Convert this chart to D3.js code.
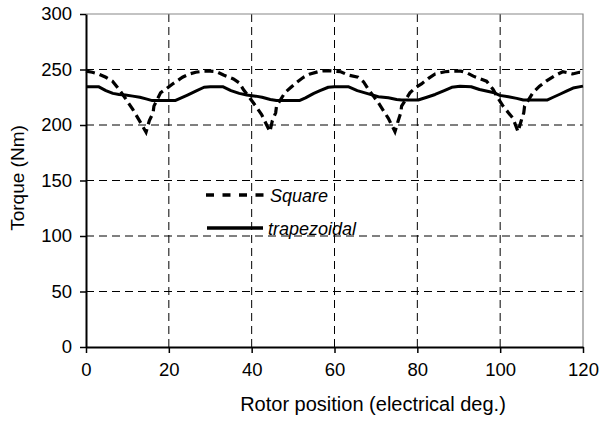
<!DOCTYPE html>
<html>
<head>
<meta charset="utf-8">
<script src="https://cdn.jsdelivr.net/npm/d3@7"></script>
<style>
  body { margin: 0; background: #fff; }
  svg text { font-family: "Liberation Sans", Arial, sans-serif; fill: #000; }
</style>
</head>
<body>
<svg id="chart" width="603" height="421"></svg>
<script>
// tick labels
var xTicks = [0, 20, 40, 60, 80, 100, 120];
var yTicks = [0, 50, 100, 150, 200, 250, 300];

// series: [rotor position (elec. deg), torque (Nm)]
var square = [
  [0, 248.5], [1.5, 247.5], [3, 246], [4.8, 243], [6.4, 239.5], [8, 232], [9.7, 223],
  [11.3, 214], [12.9, 204], [14.5, 193.5], [15.3, 204], [16.2, 211], [16.4, 217], [18, 229],
  [19.5, 233], [20.9, 237], [23.3, 243], [25, 246], [26.5, 247.5], [28.5, 248.5], [30, 248.5],
  [31.5, 248], [33.2, 245], [35.6, 241.5], [37, 238], [38, 232], [39.2, 226], [40.4, 220],
  [42.4, 209.5], [44.4, 194], [45, 204], [45.8, 211], [46, 217], [48, 229], [49.5, 234],
  [50.9, 238.5], [52.5, 243], [54.1, 246], [56.5, 248.5], [58.5, 249], [60, 248.5],
  [61.5, 248], [63.3, 245], [65.7, 243], [67, 239], [68.2, 232], [69.4, 226], [70.6, 220],
  [73, 206], [74.6, 194], [75.4, 204], [76, 211], [76.2, 217], [78.2, 229], [79.5, 233.5],
  [81, 237], [82.7, 242], [84.3, 246], [86.7, 248], [88.5, 248.5], [90.5, 248.5],
  [92, 247], [93.5, 244], [96.7, 239.5], [98.3, 232], [99.5, 224], [100.7, 217],
  [103.1, 206], [104.3, 194], [105.1, 204], [105.7, 211], [105.9, 217], [107.9, 229],
  [109.5, 235], [111.1, 239.5], [113, 244], [115.1, 248], [116.5, 247], [117.5, 246],
  [119.1, 247.5], [120, 247]
];

var trapezoidal = [
  [0, 234.5], [3, 234.5], [4.8, 231], [6.5, 228.5], [8, 227.5], [9.5, 227], [11.3, 226],
  [13, 225], [14.5, 223.5], [16, 222], [21.5, 222], [23, 224.5], [24.5, 227], [26.5, 230.5],
  [28.5, 234], [30, 234.5], [33, 234.5], [35, 231], [37, 228.5], [38.8, 227], [41, 226],
  [42.5, 225], [44.5, 223], [46, 222], [51.5, 222], [53, 224.5], [55, 228.5], [56.5, 231],
  [58.5, 234], [60, 234.5], [63.3, 234.5], [65.5, 231], [68.2, 228], [70.6, 225.5],
  [73, 224.5], [75, 223], [76.2, 222.5], [80.2, 222.5], [82.3, 225], [84.3, 227.5],
  [86.5, 231], [88.3, 234], [90.3, 235], [93, 234.5], [95, 232], [98.3, 229.3],
  [99.9, 226.7], [102, 225.5], [104, 224], [105.6, 222.5], [111.3, 222.5], [112.8, 225],
  [114.4, 227.7], [116, 230.5], [117.6, 233.3], [120, 235]
];

var svg = d3.select("#chart"),
    margin = {top: 14, left: 86, bottom: 74, right: 20},
    width = +svg.attr("width"),
    height = +svg.attr("height");

var x = d3.scaleLinear()
  .domain([0, 120])
  .range([margin.left, width - margin.right]);

var y = d3.scaleLinear()
  .domain([0, 300])
  .range([height - margin.bottom, margin.top]);

svg.append("rect")
  .attr("width", width).attr("height", height).attr("fill", "#fff");

// grid
svg.append("g").selectAll("line")
  .data(yTicks.filter(d => d > 0 && d < 300))
  .join("line")
  .attr("x1", x(0)).attr("x2", x(120))
  .attr("y1", d => y(d)).attr("y2", d => y(d))
  .attr("stroke", "#000").attr("stroke-width", 1)
  .attr("stroke-dasharray", "8,5");

svg.append("g").selectAll("line")
  .data(xTicks.filter(d => d > 0 && d < 120))
  .join("line")
  .attr("x1", d => x(d)).attr("x2", d => x(d))
  .attr("y1", y(0)).attr("y2", y(300))
  .attr("stroke", "#000").attr("stroke-width", 1)
  .attr("stroke-dasharray", "8,5");

// top and right frame
svg.append("path")
  .attr("d", "M" + x(0) + "," + y(300) + "H" + x(120) + "V" + y(0))
  .attr("fill", "none").attr("stroke", "#888").attr("stroke-width", 1.2);

// axes
var xAxis = g => g
  .attr("transform", "translate(0," + y(0) + ")")
  .call(d3.axisBottom(x).tickValues(xTicks).tickSize(6).tickPadding(10).tickSizeOuter(0))
  .call(g => g.select(".domain").attr("stroke-width", 2))
  .call(g => g.selectAll(".tick line").attr("stroke-width", 1.5))
  .call(g => g.selectAll("text").attr("font-size", 18.5).style("font-family", "Liberation Sans, Arial, sans-serif"));

var yAxis = g => g
  .attr("transform", "translate(" + x(0) + ",0)")
  .call(d3.axisLeft(y).tickValues(yTicks).tickSize(6).tickPadding(8).tickSizeOuter(0))
  .call(g => g.select(".domain").attr("stroke-width", 2))
  .call(g => g.selectAll(".tick line").attr("stroke-width", 1.5))
  .call(g => g.selectAll("text").attr("font-size", 18.5).style("font-family", "Liberation Sans, Arial, sans-serif"));

svg.append("g").attr("class", "x-axis").call(xAxis);
svg.append("g").attr("class", "y-axis").call(yAxis);

// series
var line = d3.line().x(d => x(d[0])).y(d => y(d[1]));

svg.append("path")
  .datum(trapezoidal)
  .attr("d", line)
  .attr("fill", "none").attr("stroke", "#000").attr("stroke-width", 3)
  .attr("stroke-linejoin", "round");

svg.append("path")
  .datum(square)
  .attr("d", line)
  .attr("fill", "none").attr("stroke", "#000").attr("stroke-width", 3.2)
  .attr("stroke-dasharray", "9,5");

// legend
var legend = svg.append("g");
legend.append("line")
  .attr("x1", 206).attr("x2", 267).attr("y1", 195).attr("y2", 195)
  .attr("stroke", "#000").attr("stroke-width", 3.5).attr("stroke-dasharray", "8,8.5");
legend.append("text")
  .attr("x", 270).attr("y", 202).attr("font-size", 18).attr("font-style", "italic")
  .text("Square");
legend.append("line")
  .attr("x1", 207).attr("x2", 263).attr("y1", 228).attr("y2", 228)
  .attr("stroke", "#000").attr("stroke-width", 3.5);
legend.append("text")
  .attr("x", 268).attr("y", 234.5).attr("font-size", 18).attr("font-style", "italic")
  .text("trapezoidal");

// axis titles
svg.append("text")
  .attr("x", 373).attr("y", 411)
  .attr("text-anchor", "middle").attr("font-size", 20)
  .text("Rotor position (electrical deg.)");

svg.append("text")
  .attr("transform", "translate(24,178) rotate(-90)")
  .attr("text-anchor", "middle").attr("font-size", 19)
  .text("Torque (Nm)");
</script>
</body>
</html>
